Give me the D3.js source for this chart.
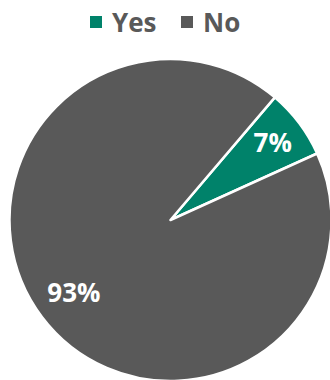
<!DOCTYPE html>
<html>
<head>
<meta charset="utf-8">
<script src="https://cdn.jsdelivr.net/npm/d3@7"></script>
<style>
  html, body { margin: 0; padding: 0; background: #fff; }
  svg { display: block; }
</style>
</head>
<body>
<svg id="chart" width="330" height="380"></svg>
<script>
// Answer categories and their shares (percent)
const categories = ["Yes", "No"];
const values = [7, 93];
const colors = ["#00826A", "#595959"];

const width = 330, height = 380;
const cx = 170.5, cy = 220, radius = 161;
const startDeg = 40.4;
const font = "'Open Sans', 'Segoe UI', sans-serif";

const svg = d3.select("#chart");

const pie = d3.pie()
  .sort(null)
  .value(d => d.value)
  .startAngle(startDeg * Math.PI / 180)
  .endAngle((startDeg + 360) * Math.PI / 180);

const data = categories.map((c, i) => ({ name: c, value: values[i], color: colors[i] }));
const arcs = pie(data);

const arc = d3.arc().innerRadius(0).outerRadius(radius);

const g = svg.append("g").attr("transform", `translate(${cx},${cy})`);

g.selectAll("path.slice")
  .data(arcs)
  .join("path")
  .attr("class", "slice")
  .attr("d", arc)
  .attr("fill", d => d.data.color)
  .attr("stroke", "#fff")
  .attr("stroke-width", 2.5)
  .attr("stroke-linejoin", "round");

// Percentage labels inside each slice
const labelRadius = { Yes: 128, No: 121 };
g.selectAll("text.pct")
  .data(arcs)
  .join("text")
  .attr("class", "pct")
  .attr("transform", d => {
    const r = labelRadius[d.data.name];
    const c = d3.arc().innerRadius(r).outerRadius(r).centroid(d);
    return `translate(${c[0]},${c[1]})`;
  })
  .attr("text-anchor", "middle")
  .attr("dy", "0.36em")
  .attr("fill", "#fff")
  .attr("font-family", font)
  .attr("font-weight", "bold")
  .attr("font-size", 26)
  .text(d => d.data.value + "%");

// Legend across the top
const legend = svg.append("g").attr("class", "legend");
const legendX = [90, 181];
const item = legend.selectAll("g.item")
  .data(data)
  .join("g")
  .attr("class", "item")
  .attr("transform", (d, i) => `translate(${legendX[i]},0)`);

item.append("rect")
  .attr("x", 0)
  .attr("y", 16)
  .attr("width", 12)
  .attr("height", 12)
  .attr("fill", d => d.color);

item.append("text")
  .attr("x", 22)
  .attr("y", 31.5)
  .attr("fill", "#595959")
  .attr("font-family", font)
  .attr("font-weight", "bold")
  .attr("font-size", 26)
  .text(d => d.name);
</script>
</body>
</html>
